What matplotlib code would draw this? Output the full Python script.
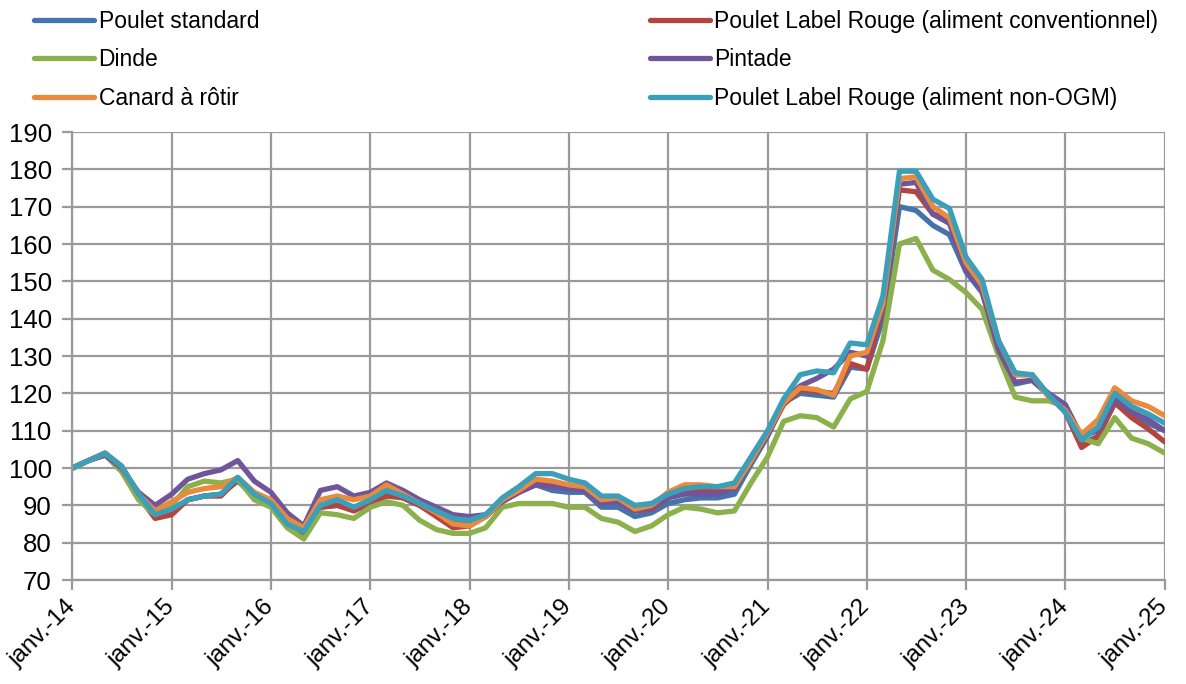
import matplotlib.pyplot as plt
import matplotlib.transforms as mtransforms
import pandas as pd

plt.rcParams['font.family'] = ['Liberation Sans', 'DejaVu Sans']

# Indices mensuels (base 100 = janv. 2014), relevés tous les 2 mois
dates = pd.date_range('2014-01-01', '2025-01-01', freq='2MS')

poulet_standard = [100, 102, 103.5, 100, 92.5, 87, 88, 91.5, 92.5, 93, 96.5, 92.5,
                   90.5, 85.5, 82, 89.5, 90, 89, 91, 93.5, 92, 90, 88, 86,
                   85.5, 87, 91, 93.5, 95.5, 94, 93.5, 93.5, 89.5, 89.5, 87, 88,
                   90.5, 91.5, 92, 92, 93, 101, 108.5, 117.5, 120, 119.5, 119, 127,
                   126.5, 140, 170, 169, 165, 162.5, 152.5, 147, 132, 122.5, 123.5, 119.5,
                   115.5, 106.5, 108.5, 117.5, 114, 112, 110]
label_rouge_conv = [100, 102, 104, 100, 92.5, 86.5, 87.5, 91.5, 92.5, 92.5, 97, 92.5,
                    91, 85.5, 82.5, 89.5, 90, 88.5, 90.5, 92.5, 92, 90, 87, 84,
                    84.5, 87, 91, 93.5, 96.5, 95.5, 95, 95, 91, 91, 88.5, 89,
                    92, 94, 94, 94, 94.5, 102, 109, 117, 121, 120.5, 120, 128,
                    126.5, 143, 174.5, 174, 168, 167, 155, 149.5, 133.5, 125, 125, 119.5,
                    115, 105.5, 108.5, 117.5, 113.5, 110.5, 107]
dinde = [100, 102, 103.5, 99, 91.5, 87.5, 90, 95, 96.5, 96, 97, 91.5,
         89.5, 84, 81, 88, 87.5, 86.5, 89.5, 91, 90, 86, 83.5, 82.5,
         82.5, 84, 89.5, 90.5, 90.5, 90.5, 89.5, 89.5, 86.5, 85.5, 83, 84.5,
         87.5, 89.5, 89, 88, 88.5, 96, 103, 112.5, 114, 113.5, 111, 118.5,
         120.5, 134, 160, 161.5, 153, 150.5, 147, 142.5, 130, 119, 118, 118,
         116.5, 108, 106.5, 113.5, 108, 106.5, 104]
pintade = [100, 102, 103.5, 100, 93.5, 90, 93, 97, 98.5, 99.5, 102, 96.5,
           93.5, 88, 84.5, 94, 95, 92.5, 93.5, 96, 94, 91.5, 89.5, 87.5,
           87, 87.5, 91, 93.5, 95.5, 95, 94.5, 94, 90.5, 91, 88.5, 89.5,
           92, 93, 93, 93, 94.5, 102, 109, 118, 122, 124, 126.5, 131,
           130, 143, 176, 176.5, 168, 165.5, 153, 147.5, 131.5, 123, 123.5, 120,
           117, 108.5, 110, 118.5, 115, 113, 110]
canard = [100, 102, 104, 100.5, 93, 88.5, 91, 93.5, 94.5, 95, 97.5, 93.5,
          91.5, 86.5, 84, 91.5, 92.5, 91.5, 92.5, 95.5, 93, 90.5, 88, 85,
          84.5, 87, 91.5, 94, 97, 96.5, 95.5, 95, 91.5, 92, 89, 90,
          93.5, 95.5, 95.5, 95, 95, 102, 109.5, 117.5, 121.5, 121, 119.5, 130,
          131, 144, 177.5, 178, 170, 167, 155, 149, 134, 125, 125, 119,
          115.5, 109, 113, 121.5, 118, 116.5, 114]
label_rouge_ogm = [100, 102, 104, 100.5, 93, 87.5, 89, 91.5, 92.5, 93, 97.5, 93,
                   90.5, 85, 83, 90, 91.5, 89.5, 91.5, 94, 92.5, 90.5, 88.5, 86.5,
                   86, 87.5, 92, 95, 98.5, 98.5, 97, 96, 92.5, 92.5, 90, 90.5,
                   93, 94.5, 95, 95, 96, 103, 110, 118.5, 125, 126, 125.5, 133.5,
                   133, 146, 179.5, 179.5, 172, 169.5, 156.5, 150.5, 134, 125.5, 125, 119.5,
                   115, 107.5, 111, 120, 116.5, 114.5, 112]

series = [
    ('Poulet standard', poulet_standard, '#4573ab'),
    ('Poulet Label Rouge (aliment conventionnel)', label_rouge_conv, '#b5433f'),
    ('Dinde', dinde, '#8cb04c'),
    ('Pintade', pintade, '#71559a'),
    ('Canard à rôtir', canard, '#ea8a3c'),
    ('Poulet Label Rouge (aliment non-OGM)', label_rouge_ogm, '#3b9fb9'),
]

fig = plt.figure(figsize=(11.86, 6.84), dpi=100)
ax = fig.add_axes([0.0611, 0.152, 0.921, 0.655])

lines = {}
for name, vals, col in series:
    l, = ax.plot(dates, vals, color=col, lw=3.8, solid_capstyle='round', solid_joinstyle='round')
    lines[name] = l

ax.set_ylim(70, 190)
ax.set_yticks(range(70, 191, 10))
ax.set_xlim(pd.Timestamp('2014-01-01'), pd.Timestamp('2025-01-01'))
ticks = pd.date_range('2014-01-01', '2025-01-01', freq='YS')
ax.set_xticks(ticks)
ax.set_xticklabels(['janv.-%02d' % (d.year % 100) for d in ticks],
                   rotation=45, ha='right', va='center', rotation_mode='anchor')
offset = mtransforms.ScaledTranslation(8 / 100, 0, fig.dpi_scale_trans)
for lab in ax.get_xticklabels():
    lab.set_transform(lab.get_transform() + offset)

ax.grid(True, color='#9a9a9a', lw=1.6)
ax.set_axisbelow(True)
for s in ['top', 'right']:
    ax.spines[s].set_visible(False)
for s in ['left', 'bottom']:
    ax.spines[s].set_color('#9a9a9a')
    ax.spines[s].set_linewidth(1.6)
ax.tick_params(axis='both', colors='#9a9a9a', width=1.6, length=7, labelcolor='black')
ax.tick_params(axis='x', pad=10, labelsize=17.5)
ax.tick_params(axis='y', pad=8, labelsize=18.5)

names1 = ['Poulet standard', 'Dinde', 'Canard à rôtir']
names2 = ['Poulet Label Rouge (aliment conventionnel)', 'Pintade', 'Poulet Label Rouge (aliment non-OGM)']
kw = dict(frameon=False, fontsize=16.5, handlelength=2.6, handletextpad=0.2, labelspacing=0.68,
          borderaxespad=0, borderpad=0)
leg1 = fig.legend([lines[n] for n in names1], names1, loc='upper left',
                  bbox_to_anchor=(0.029, 0.986), **kw)
leg2 = fig.legend([lines[n] for n in names2], names2, loc='upper left',
                  bbox_to_anchor=(0.548, 0.986), **kw)

plt.savefig('out.png', dpi=100)
